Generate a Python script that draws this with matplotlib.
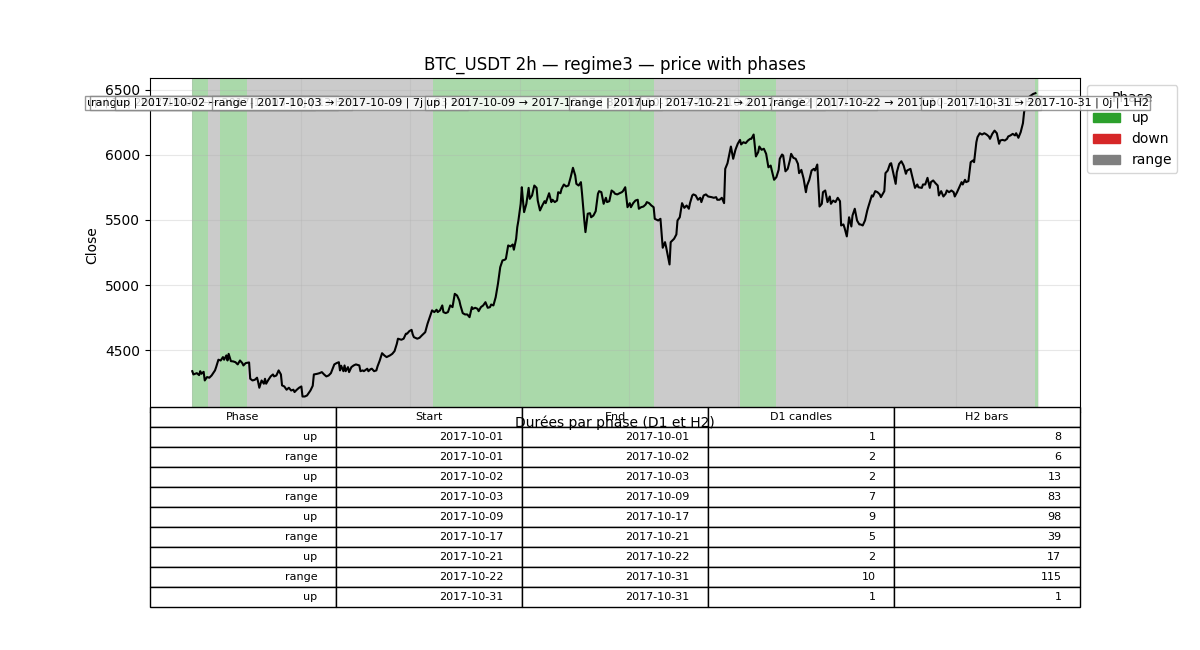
import numpy as np
import pandas as pd
import matplotlib
matplotlib.use('Agg')
import matplotlib.pyplot as plt
import matplotlib.dates as mdates
from matplotlib.patches import Patch

t0 = pd.Timestamp('2017-10-01 00:00')

# closes, hours since 2017-10-01 00:00
hours_1 = [0, 1, 4, 6, 7, 8, 10, 11, 13, 15,
           17, 20, 21, 23, 25, 27, 28, 30, 31, 32,
           34, 36, 38, 40, 42, 44, 45, 47, 50, 51,
           53, 55, 57, 58, 59, 61, 63, 64, 65, 67,
           69, 71, 72, 74, 76, 78, 79, 81, 83, 85,
           87, 89, 90, 92, 94, 96, 97, 99, 101, 104,
           106, 107, 110, 112, 114, 116, 118, 120, 122, 124,
           125, 127, 129, 130, 131, 133, 134, 135, 137, 138,
           140, 142, 144, 147, 148, 150, 151, 154, 155, 157,
           158, 160, 162, 163, 165, 167, 169, 171, 174, 176,
           178, 180, 181, 184, 186, 188, 189, 191, 193, 194,
           195, 198, 200, 202, 205, 207, 210, 211, 213, 215,
           216, 218]
close_1 = [4341, 4316, 4326, 4311, 4341, 4321, 4336, 4270, 4296, 4291,
           4308, 4347, 4372, 4429, 4423, 4449, 4429, 4462, 4423, 4474,
           4418, 4416, 4410, 4393, 4423, 4403, 4385, 4403, 4408, 4283,
           4270, 4275, 4291, 4257, 4214, 4270, 4245, 4283, 4245, 4275,
           4301, 4316, 4301, 4308, 4347, 4316, 4232, 4224, 4199, 4214,
           4193, 4199, 4181, 4199, 4214, 4224, 4147, 4147, 4155, 4193,
           4229, 4316, 4321, 4326, 4334, 4316, 4301, 4308, 4326, 4372,
           4393, 4403, 4410, 4347, 4383, 4341, 4385, 4341, 4372, 4334,
           4372, 4385, 4393, 4385, 4341, 4347, 4341, 4360, 4341, 4357,
           4360, 4341, 4347, 4377, 4423, 4479, 4462, 4449, 4462, 4474,
           4495, 4551, 4590, 4582, 4590, 4628, 4628, 4648, 4658, 4623,
           4602, 4590, 4597, 4615, 4640, 4704, 4781, 4807, 4794, 4812,
           4794, 4807]

hours_2 = [220, 221, 223, 225, 227, 229, 231, 233, 235, 236,
           238, 240, 242, 244, 246, 247, 249, 251, 252, 254,
           256, 258, 260, 262, 263, 265, 267, 269, 271, 273,
           275, 276, 278, 280, 282, 283, 285, 286, 287, 289,
           290, 291, 292, 294, 296, 297, 299, 301, 303, 304,
           306, 308, 310, 311, 314, 316, 317, 319, 321, 322,
           324, 325, 327, 329, 331, 333, 335, 337, 338, 340,
           342, 343, 345, 346, 348, 350, 351, 353, 355, 357,
           358, 360, 362, 364, 365, 367, 369, 371, 372, 374,
           376, 378, 379, 381, 383, 385, 386, 388, 390, 392,
           393, 395, 397, 399, 400, 402, 404, 406]
close_2 = [4845, 4794, 4786, 4794, 4845, 4832, 4934, 4921, 4883, 4845,
           4786, 4776, 4776, 4755, 4832, 4819, 4827, 4819, 4801, 4832,
           4845, 4870, 4827, 4832, 4852, 4845, 4908, 5011, 5138, 5190,
           5195, 5203, 5305, 5297, 5312, 5272, 5356, 5445, 5496, 5624,
           5751, 5649, 5560, 5624, 5746, 5662, 5688, 5764, 5746, 5649,
           5573, 5611, 5644, 5629, 5705, 5637, 5655, 5637, 5649, 5713,
           5705, 5739, 5772, 5757, 5764, 5828, 5900, 5841, 5777, 5764,
           5790, 5701, 5496, 5407, 5548, 5552, 5521, 5534, 5567, 5701,
           5721, 5713, 5624, 5670, 5637, 5644, 5726, 5713, 5701, 5696,
           5705, 5713, 5721, 5751, 5598, 5629, 5598, 5629, 5649, 5655,
           5586, 5598, 5603, 5619, 5637, 5629, 5611, 5598]

hours_3 = [407, 410, 412, 414, 416, 417, 420, 421, 424, 426,
           427, 429, 431, 433, 435, 437, 438, 440, 441, 443,
           445, 447, 448, 450, 452, 454, 457, 459, 461, 462,
           464, 466, 468, 469, 471, 474, 476, 478, 480, 482,
           483, 485, 487, 489, 491, 492, 494, 496, 498, 499,
           501, 503, 505, 507, 509, 510, 512, 514, 516, 517,
           519, 520, 522, 524, 526, 527, 529, 531, 533, 534,
           536, 538, 540, 541, 543, 545, 547, 548, 550, 552,
           554, 555, 557, 559, 561, 562, 564, 566, 568, 570,
           571, 573, 574, 576, 578, 580, 581, 583, 585, 587,
           588, 590, 592, 594, 595, 598, 599, 601, 603, 605,
           606, 609, 610, 612]
close_3 = [5509, 5496, 5509, 5287, 5330, 5292, 5159, 5330, 5356, 5389,
           5496, 5521, 5629, 5593, 5611, 5586, 5629, 5688, 5696, 5688,
           5655, 5670, 5637, 5688, 5696, 5680, 5675, 5670, 5675, 5655,
           5655, 5670, 5629, 5892, 5935, 6063, 5969, 6038, 6084, 6114,
           6079, 6096, 6089, 6109, 6122, 6122, 6155, 5987, 6020, 6063,
           6038, 6046, 6007, 5904, 5917, 5879, 5808, 5828, 5884, 5969,
           6002, 5994, 5873, 5892, 5961, 6007, 5976, 5969, 5930, 5859,
           5884, 5816, 5713, 5764, 5808, 5879, 5892, 5879, 5925, 5603,
           5624, 5713, 5726, 5637, 5680, 5624, 5649, 5637, 5670, 5644,
           5458, 5466, 5440, 5374, 5521, 5450, 5534, 5586, 5496, 5466,
           5466, 5458, 5496, 5573, 5603, 5688, 5680, 5721, 5713, 5696,
           5675, 5721, 5859, 5879]

hours_4 = [614, 615, 617, 619, 620, 622, 624, 626, 628, 629,
           632, 633, 636, 638, 639, 642, 643, 645, 647, 649,
           650, 652, 654, 656, 657, 659, 661, 663, 664, 666,
           668, 670, 671, 673, 675, 677, 678, 680, 681, 683,
           685, 687, 688, 690, 691, 693, 695, 697, 699, 701,
           702, 704, 706, 708, 710, 711, 713, 715, 717, 718,
           720, 722, 724, 725, 727, 729, 731, 732, 734, 736,
           738, 740, 742]
close_4 = [5930, 5935, 5854, 5777, 5866, 5930, 5950, 5917, 5854, 5879,
           5892, 5854, 5746, 5772, 5751, 5746, 5772, 5772, 5823, 5746,
           5790, 5803, 5782, 5764, 5688, 5721, 5680, 5701, 5726, 5713,
           5726, 5713, 5680, 5713, 5751, 5790, 5772, 5808, 5790, 5798,
           5943, 5956, 5943, 6096, 6135, 6165, 6155, 6165, 6155, 6140,
           6122, 6160, 6185, 6165, 6084, 6109, 6114, 6109, 6122, 6140,
           6148, 6160, 6148, 6165, 6130, 6173, 6242, 6326, 6402, 6441,
           6454, 6466, 6472]

# phases
phase_names = ['up', 'range', 'up', 'range', 'up', 'range', 'up', 'range', 'up']
phase_start = ['2017-10-01 00:00', '2017-10-01 14:00', '2017-10-02 00:00',
               '2017-10-03 00:00', '2017-10-09 20:00', '2017-10-17 22:00',
               '2017-10-21 02:00', '2017-10-22 10:00', '2017-10-31 22:00']
phase_end = ['2017-10-01 14:00', '2017-10-02 00:00', '2017-10-03 00:00',
             '2017-10-09 20:00', '2017-10-17 22:00', '2017-10-21 02:00',
             '2017-10-22 10:00', '2017-10-31 22:00', '2017-10-31 22:00']
d1_candles = [1, 2, 2, 7, 9, 5, 2, 10, 1]
h2_bars = [8, 6, 13, 83, 98, 39, 17, 115, 1]

phase_colors = {'up': 'tab:green', 'down': 'tab:red', 'range': 'tab:gray'}

hours = hours_1 + hours_2 + hours_3 + hours_4
close = close_1 + close_2 + close_3 + close_4
times = t0 + pd.to_timedelta(hours, unit='h')

fig, (ax, ax2) = plt.subplots(2, 1, figsize=(12, 6.5),
                              gridspec_kw={'height_ratios': [7, 3], 'hspace': 0.1})

# shaded phases + labels
for name, s, e, bars in zip(phase_names, phase_start, phase_end, h2_bars):
    s = pd.Timestamp(s)
    e = pd.Timestamp(e)
    e_span = e if e > s else e + pd.Timedelta(hours=2)
    ax.axvspan(s, e_span, color=phase_colors[name], alpha=0.4, lw=0)
    nd = round((e - s) / pd.Timedelta(days=1))
    label = f"{name} | {s:%Y-%m-%d} → {e:%Y-%m-%d} | {nd}j | {bars} H2"
    ax.text(mdates.date2num(s + (e - s) / 2), 0.925, label,
            transform=ax.get_xaxis_transform(), ha='center', va='center',
            fontsize=8, zorder=6,
            bbox=dict(facecolor='white', edgecolor='gray', alpha=0.8, pad=1))

ax.plot(times, close, color='black', lw=1.5)
ax.set_title('BTC_USDT 2h — regime3 — price with phases')
ax.set_ylabel('Close')
ax.xaxis.set_major_locator(mdates.DayLocator(bymonthday=[1, 5, 9, 13, 17, 21, 25, 29]))
ax.grid(True, alpha=0.3)

handles = [Patch(color=phase_colors[k], label=k) for k in ['up', 'down', 'range']]
ax.legend(handles=handles, title='Phase', loc='upper left', bbox_to_anchor=(1.0, 1.0))

# table of durations
rows = []
for name, s, e, d1, bars in zip(phase_names, phase_start, phase_end, d1_candles, h2_bars):
    rows.append([name, pd.Timestamp(s).strftime('%Y-%m-%d'),
                 pd.Timestamp(e).strftime('%Y-%m-%d'), str(d1), str(bars)])

ax2.axis('off')
tbl = ax2.table(cellText=rows, colLabels=['Phase', 'Start', 'End', 'D1 candles', 'H2 bars'],
                loc='center')
tbl.auto_set_font_size(False)
tbl.set_fontsize(8)
tbl.scale(1, 1.2)
ax2.set_title('Durées par phase (D1 et H2)', fontsize=10)

fig.savefig('out.png', dpi=100)
